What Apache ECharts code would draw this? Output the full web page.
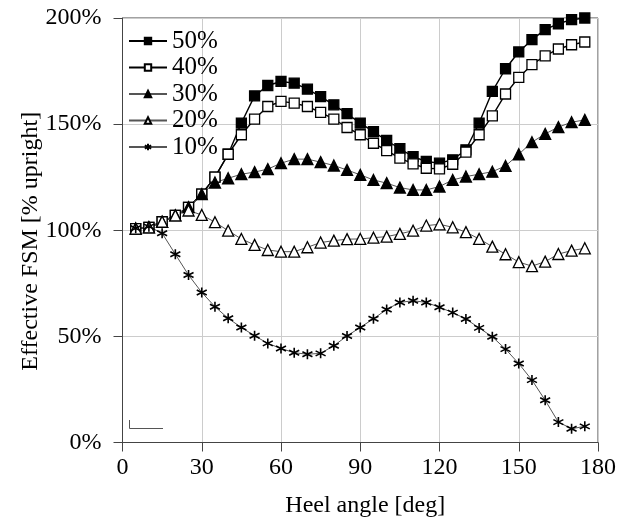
<!DOCTYPE html>
<html style="height: 100%">

<head>
    <meta charset="utf-8">
</head>

<body style="height: 100%; margin: 0; background: #fff">
    <div id="container" style="width: 636px; height: 527px"></div>
    <script type="text/javascript" src="https://cdn.jsdelivr.net/npm/echarts@6/dist/echarts.min.js"></script>
    <script type="text/javascript">
        // heel angles 5..175 deg
        var angles = [5, 10, 15, 20, 25, 30, 35, 40, 45, 50, 55, 60, 65, 70, 75, 80, 85, 90,
            95, 100, 105, 110, 115, 120, 125, 130, 135, 140, 145, 150, 155, 160, 165, 170, 175];

        var fill50 = [100.8, 101.4, 104, 107, 110.8, 117, 125, 135.8, 150.5, 163.3, 168.2, 170.1, 169.3, 166.5, 163, 159.1, 154.9, 150.5,
            146.5, 142.3, 138.4, 134.7, 132.4, 131.6, 133.2, 137.9, 150.5, 165.4, 176.1, 184, 189.8, 194.5, 197.3, 199.2, 200];
        var fill40 = [100.8, 101.4, 104, 107, 110.8, 117, 125, 135.8, 145, 152.4, 158.3, 160.7, 159.9, 158.3, 155.5, 152.4, 148.4, 145,
            141, 137.5, 134, 131.3, 129.2, 128.9, 131.1, 136.8, 145, 153.9, 164.2, 172, 178, 182.2, 185.4, 187.4, 188.7];
        var fill30 = [100.8, 101.4, 104, 107, 110.9, 117, 122.5, 124.5, 126.4, 127.4, 128.8, 131.6, 133.5, 133.5, 132.1, 130.5, 128.4, 126.1,
            123.7, 122.2, 120.1, 119, 119, 120.6, 123.7, 125.3, 126.4, 127.6, 130.3, 135.8, 141.5, 145.4, 148.6, 150.9, 152];
        var fill20 = [100.8, 101.4, 104, 107, 109.3, 107.2, 103.8, 99.8, 95.9, 93.1, 90.7, 89.9, 89.9, 92, 94.2, 95.1, 95.8, 95.9,
            96.5, 97, 98.3, 99.8, 102.2, 102.8, 101.4, 99.1, 95.9, 92.3, 88.7, 85, 83.1, 85.2, 88.8, 90.4, 91.5];
        var fill10 = [100.9, 101.7, 98.6, 88.7, 78.9, 70.7, 64, 58.5, 54.2, 50.3, 46.7, 44.3, 42.3, 41.6, 42, 45.6, 50.2, 54.2,
            58.3, 62.7, 66, 66.8, 66, 63.7, 61.2, 58.2, 54, 49.8, 44, 37.2, 29.4, 19.9, 9.6, 6.5, 7.6];

        var seriesNames = ['50%', '40%', '30%', '20%', '10%'];
        var xTicks = [0, 180, 30];   // min, max, step
        var yTicks = [0, 200, 50];

        var serif = 'Liberation Serif';
        var asterisk = 'path://M5,0L5,10M0.7,2.5L9.3,7.5M0.7,7.5L9.3,2.5';

        function pairs(vals) {
            return angles.map(function (a, i) { return [a, vals[i]]; });
        }

        function mkSeries(name, vals, symbol, filled, lineColor, lineWidth, size) {
            return {
                name: name,
                type: 'line',
                data: pairs(vals),
                symbol: symbol,
                symbolSize: size,
                showSymbol: true,
                smooth: false,
                lineStyle: { color: lineColor, width: lineWidth },
                itemStyle: {
                    color: filled ? '#000' : '#fff',
                    borderColor: '#000',
                    borderWidth: symbol === asterisk ? 1.6 : 1.3
                },
                emphasis: { disabled: true },
                z: 3
            };
        }

        var myChart = echarts.init(document.getElementById('container'));
        var option = {
            animation: false,
            backgroundColor: '#fff',
            textStyle: { fontFamily: serif, color: '#000' },
            grid: {
                left: 122.5, right: 38, top: 18, bottom: 84.5,
                show: true, borderColor: '#444', borderWidth: 1
            },
            legend: {
                orient: 'vertical',
                left: 123,
                top: 23.5,
                itemWidth: 38,
                itemHeight: 8,
                itemGap: 1.5,
                data: seriesNames,
                inactiveColor: '#000',
                textStyle: { fontFamily: serif, fontSize: 25, color: '#000' }
            },
            xAxis: {
                type: 'value',
                min: xTicks[0], max: xTicks[1], interval: xTicks[2],
                name: 'Heel angle [deg]',
                nameLocation: 'middle',
                nameGap: 51,
                nameTextStyle: { fontFamily: serif, fontSize: 24, color: '#000', padding: [0, 0, 0, 10] },
                axisLine: { lineStyle: { color: '#444' } },
                axisTick: { show: true, length: 9, lineStyle: { color: '#444' } },
                axisLabel: { fontFamily: serif, fontSize: 24, color: '#000', margin: 13 },
                splitLine: { show: true, lineStyle: { color: '#ccc' } }
            },
            yAxis: {
                type: 'value',
                min: yTicks[0], max: yTicks[1], interval: yTicks[2],
                name: 'Effective FSM [% upright]',
                nameLocation: 'middle',
                nameGap: 80,
                nameMoveOverlap: false,
                nameTextStyle: { fontFamily: serif, fontSize: 24, color: '#000', padding: [0, 22, 0, 0] },
                axisLine: { show: true, lineStyle: { color: '#444' } },
                axisTick: { show: true, length: 9, lineStyle: { color: '#444' } },
                axisLabel: { fontFamily: serif, fontSize: 24, color: '#000', margin: 21, formatter: '{value}%' },
                splitLine: { show: true, lineStyle: { color: '#ccc' } }
            },
            graphic: [{
                type: 'polyline',
                shape: { points: [[129.5, 420], [129.5, 428.5], [163, 428.5]] },
                style: { stroke: '#555', lineWidth: 1, fill: null },
                silent: true
            }],
            series: [
                mkSeries(seriesNames[0], fill50, 'rect', true, '#000', 1.4, 10),
                mkSeries(seriesNames[1], fill40, 'rect', false, '#000', 1.4, 10),
                mkSeries(seriesNames[2], fill30, 'triangle', true, '#555', 1, 11),
                mkSeries(seriesNames[3], fill20, 'triangle', false, '#555', 1, 11),
                mkSeries(seriesNames[4], fill10, asterisk, false, '#555', 1, 10)
            ]
        };
        myChart.setOption(option, true);
    </script>
</body>

</html>
